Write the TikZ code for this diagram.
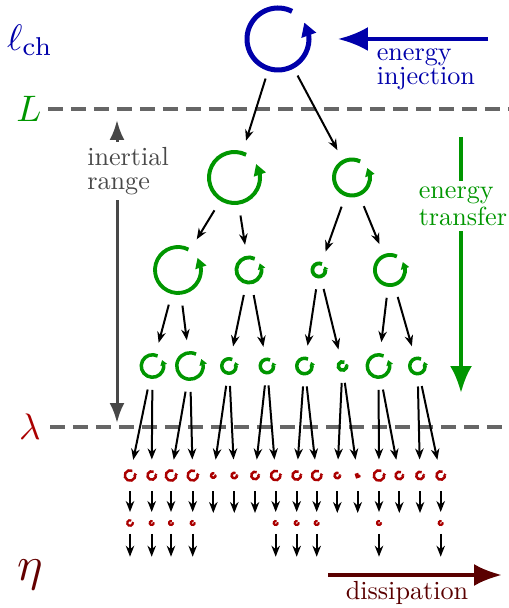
\documentclass[tikz,border=0pt]{standalone}
\usepackage{amsmath}
\usetikzlibrary{arrows.meta,bending}
\definecolor{injblue}{RGB}{0,0,170}
\definecolor{transgreen}{RGB}{0,150,0}
\definecolor{dissred}{RGB}{170,0,0}
\definecolor{etared}{RGB}{100,0,0}
\definecolor{dissdark}{RGB}{90,0,0}
\definecolor{scalegray}{RGB}{102,102,102}
\definecolor{rangegray}{RGB}{72,72,72}

% eddy: name, x, y, radius, line width, colour, clip radius (all in px)
\newcommand{\eddy}[7]{%
  \pgfmathsetmacro\eddylw{#5*0.02}%
  \pgfmathsetmacro\eddytl{(0.42*#4+0.5)*0.02}%
  \pgfmathsetmacro\eddytw{(0.35*#4+0.8*#5)*0.02}%
  \pgfmathsetmacro\eddyclip{2*(#7)*0.02}%
  \node[eddynode, minimum size=\eddyclip cm] (#1) at (#2,#3) {};
  \draw[#6, line width=\eddylw cm, -{Triangle[flex, length=\eddytl cm, width=\eddytw cm]}]
    (#1.center) ++(63:#4) arc[start angle=63, end angle=392, radius=#4];
}

\begin{document}
\begin{tikzpicture}[x=0.02cm, y=0.02cm,
    eddynode/.style={circle, inner sep=0pt, outer sep=0pt},
    cascade/.style={-{Stealth[length=0.22cm, width=0.17cm]}, line width=0.04cm},
    scaleline/.style={scalegray, line width=0.08cm, dash pattern=on 0.3cm off 0.16cm},
    scalename/.style={scale=2.1, inner sep=1pt},
    note/.style={font=\fontsize{10}{9.1}\selectfont, scale=1.49, align=left, inner sep=2pt}]
  \useasboundingbox (0,0) rectangle (509,608);

  % scale lines
  \coordinate (Lstart) at (48,499);
  \coordinate (Lend) at (509,499);
  \coordinate (lamstart) at (50,181);
  \coordinate (lamend) at (509,181);
  \draw[scaleline] (Lstart) -- (Lend);
  \draw[scaleline] (lamstart) -- (lamend);

  % scale names
  \node[scalename, injblue] (lch) at (30,568) {$\ell_{\mathrm{ch}}$};
  \node[scalename, transgreen] (lL) at (29,499) {$L$};
  \node[scalename, dissred] (llam) at (30,181) {$\lambda$};
  \node[scalename, etared, scale=1.3] (leta) at (30,33) {$\eta$};

  % eddies
  \eddy{e0}{278}{569}{31}{5}{injblue}{41.5}
  \eddy{e1-1}{234.5}{430.5}{25.5}{4}{transgreen}{38.5}
  \eddy{e1-2}{352}{430.5}{18}{4}{transgreen}{31}
  \eddy{e2-1}{178}{338}{23}{3.8}{transgreen}{35.9}
  \eddy{e2-2}{249}{338}{12.6}{3.8}{transgreen}{25.5}
  \eddy{e2-3}{319}{338}{6.6}{3.8}{transgreen}{19.5}
  \eddy{e2-4}{390}{338}{15.1}{3.8}{transgreen}{28}
  \foreach \i/\x/\r in {1/152.5/11.25, 2/190/13.25, 3/229/7.25, 4/267/6.75,
      5/304.5/7.75, 6/342.5/4.25, 7/378.5/11.25, 8/417.5/7.75}
    \eddy{e3-\i}{\x}{242}{\r}{3.5}{transgreen}{\r+12.75};
  \foreach \i/\x/\r in {1/130/5.25, 2/151.7/4.25, 3/171/5.25, 4/192.7/5.1,
      5/213.3/2.25, 6/234.3/2.75, 7/255/3.75, 8/275.7/4.75, 9/296.7/4.25,
      10/316.7/4.75, 11/337.3/2.75, 12/357.7/1.75, 13/379/5.25, 14/399.3/3.75,
      15/420/3.75, 16/440.7/4.25}
    \eddy{e4-\i}{\x}{132.5}{\r}{2.5}{dissred}{16};
  \foreach \i/\x/\r in {1/130/2.8, 2/151.7/2, 3/171/2, 4/192.7/2, 8/275.7/2,
      9/296.7/2, 10/316.7/2, 13/379/2, 16/440.7/2}
    \eddy{e5-\i}{\x}{85}{\r}{2.2}{dissred}{11};

  % cascade
  \foreach \c in {1,2}
    \draw[cascade] (e0) -- (e1-\c);
  \foreach \lev/\nxt/\n in {1/2/2, 2/3/4, 3/4/8}
    \foreach \p in {1,...,\n} {
      \pgfmathtruncatemacro\a{2*\p-1}
      \pgfmathtruncatemacro\b{2*\p}
      \draw[cascade] (e\lev-\p) -- (e\nxt-\a);
      \draw[cascade] (e\lev-\p) -- (e\nxt-\b);
    }
  \foreach \c in {1,2,3,4,8,9,10,13,16}
    \draw[cascade] (e4-\c) -- (e5-\c);
  \foreach \c/\x in {5/213.3, 6/234.3, 7/255, 11/337.3, 12/357.7, 14/399.3, 15/420} {
    \coordinate (f\c) at (\x,95);
    \draw[cascade] (e4-\c) -- (f\c);
  }
  \foreach \c/\x in {1/130, 2/151.7, 3/171, 4/192.7, 8/275.7, 9/296.7, 10/316.7, 13/379, 16/440.7} {
    \coordinate (g\c) at (\x,51.3);
    \draw[cascade] (e5-\c) -- (g\c);
  }

  % energy injection
  \coordinate (inj) at (488,569);
  \draw[injblue, line width=0.08cm, -{Latex[length=0.6cm, width=0.48cm]}, shorten >=0.37cm] (inj) -- (e0);
  \node[note, injblue, anchor=west] (injection) at (371,538.5) {energy\\injection};

  % energy transfer
  \node[note, transgreen, anchor=west] (transfer) at (413,402) {energy\\transfer};
  \coordinate (trtop) at (461,471);
  \coordinate (trbot) at (461,215);
  \draw[transgreen, line width=0.08cm] (trtop) -- (trtop |- transfer.north);
  \draw[transgreen, line width=0.08cm, -{Latex[length=0.54cm, width=0.44cm]}] (trbot |- transfer.south) -- (trbot);

  % inertial range
  \node[note, rangegray, anchor=west] (range) at (81.5,437) {inertial\\range};
  \coordinate (rtop) at (117,488);
  \coordinate (rbot) at (117,185);
  \draw[rangegray, line width=0.06cm, -{Latex[length=0.4cm, width=0.3cm]}] (rtop |- range.north) -- (rtop);
  \draw[rangegray, line width=0.06cm, -{Latex[length=0.4cm, width=0.3cm]}] (rbot |- range.south) -- (rbot);

  % dissipation
  \coordinate (dstart) at (328,33);
  \coordinate (dend) at (502,33);
  \draw[dissdark, line width=0.08cm, -{Latex[length=0.56cm, width=0.44cm]}] (dstart) -- (dend);
  \node[note, dissdark, anchor=west] (dissipation) at (340,15) {dissipation};
\end{tikzpicture}
\end{document}
